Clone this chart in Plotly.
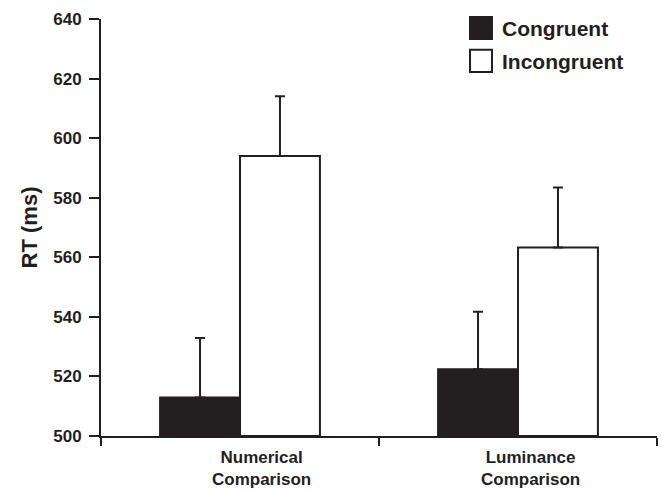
import plotly.graph_objects as go

categories = ["Numerical Comparison", "Luminance Comparison"]
category_labels = ["Numerical<br>Comparison", "Luminance<br>Comparison"]
congruent_rt = [512.9, 522.4]
incongruent_rt = [594.0, 563.3]
congruent_err = [20.0, 19.3]
incongruent_err = [20.1, 20.1]
y_ticks = [500, 520, 540, 560, 580, 600, 620, 640]
series_names = ["Congruent", "Incongruent"]

INK = "#231f20"
FONT = "Liberation Sans, Arial, Helvetica, sans-serif"

fig = go.Figure()
fig.add_trace(go.Bar(
    name=series_names[0], x=categories, y=[v - 500 for v in congruent_rt], base=500,
    marker=dict(color=INK, line=dict(color=INK, width=2)),
    error_y=dict(type="data", array=congruent_err, arrayminus=[0, 0],
                 color=INK, thickness=2, width=5),
    showlegend=False,
))
fig.add_trace(go.Bar(
    name=series_names[1], x=categories, y=[v - 500 for v in incongruent_rt], base=500,
    marker=dict(color="white", line=dict(color=INK, width=2)),
    error_y=dict(type="data", array=incongruent_err, arrayminus=[0, 0],
                 color=INK, thickness=2, width=5),
    showlegend=False,
))

# category labels (slightly right of centre, as in the original)
label_shift = [21, 12]
for cat, lab, sh in zip(categories, category_labels, label_shift):
    fig.add_annotation(x=cat, xref="x", y=0, yref="paper", yanchor="top",
                       yshift=-10, xshift=sh, text=lab, showarrow=False,
                       font=dict(family=FONT, size=17, color=INK, weight="bold"),
                       align="center")

# manual legend
legend_fill = [INK, "white"]
legend_rows = [(0.952, 1.005, 0.978), (0.873, 0.926, 0.899)]
for name, fill, (y0, y1, yt) in zip(series_names, legend_fill, legend_rows):
    fig.add_shape(type="rect", xref="paper", yref="paper",
                  x0=0.6637, x1=0.7032, y0=y0, y1=y1,
                  fillcolor=fill, line=dict(color=INK, width=2))
    fig.add_annotation(x=0.7176, xref="paper", y=yt, yref="paper",
                       xanchor="left", yanchor="middle", text=name,
                       showarrow=False,
                       font=dict(family=FONT, size=21, color=INK, weight="bold"))

fig.update_layout(
    width=662, height=490,
    margin=dict(l=101, r=5, t=19, b=54),
    paper_bgcolor="white", plot_bgcolor="white",
    barmode="group", bargap=0.425, bargroupgap=0,
    font=dict(family=FONT, color=INK),
)
fig.update_xaxes(
    type="category", range=[-0.5, 1.5], showticklabels=False, automargin=False,
    showline=True, linecolor=INK, linewidth=2,
    ticks="outside", tickson="boundaries", ticklen=8, tickwidth=2, tickcolor=INK,
    showgrid=False, zeroline=False,
)
fig.update_yaxes(
    range=[500, 640], tickvals=y_ticks, ticktext=[str(v) for v in y_ticks],
    automargin=False,
    showline=True, linecolor=INK, linewidth=2,
    ticks="outside", ticklen=10, tickwidth=2, tickcolor=INK,
    tickfont=dict(family=FONT, size=17, color=INK, weight="bold"),
    ticklabelstandoff=4,
    title=dict(text="RT (ms)", font=dict(family=FONT, size=22, color=INK, weight="bold"),
               standoff=10),
    showgrid=False, zeroline=False,
)

fig.write_html("out.html",
               config={"displayModeBar": False, "staticPlot": True},
               post_script="document.body.style.margin='0';document.body.style.overflow='hidden';")
